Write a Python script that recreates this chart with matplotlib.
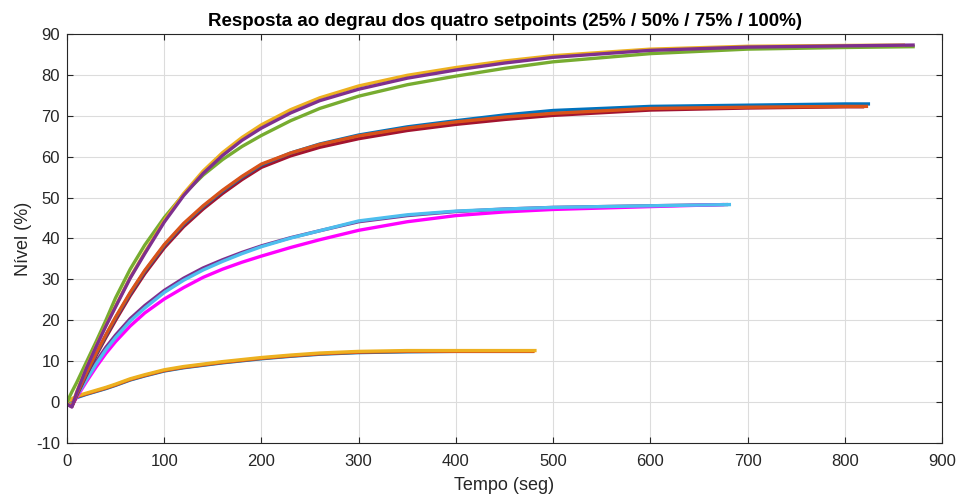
import matplotlib
matplotlib.use("Agg")
import matplotlib.pyplot as plt

# ---- data ----
t_grid = [0, 5, 10, 20, 30, 40, 50, 65, 80, 100, 120, 140, 160, 180, 200,
          230, 260, 300, 350, 400, 450, 500, 600, 700, 800]

# 25 % setpoint
sp25_blue_t = t_grid[:21] + [480]
sp25_blue = [-0.3, 0.4, 1.1, 1.9, 2.6, 3.3, 4.1, 5.4, 6.4, 7.6, 8.4, 9.0, 9.6, 10.1, 10.6,
             11.2, 11.7, 12.1, 12.3, 12.4, 12.4, 12.4]
sp25_red_t = t_grid[:21] + [481]
sp25_red = [-0.2, 0.6, 1.3, 2.0, 2.7, 3.4, 4.2, 5.5, 6.5, 7.7, 8.5, 9.1, 9.7, 10.2, 10.7,
            11.3, 11.8, 12.2, 12.4, 12.4, 12.4, 12.4]
sp25_yel_t = t_grid[:21] + [483]
sp25_yel = [0.0, 0.8, 1.5, 2.2, 2.9, 3.6, 4.4, 5.7, 6.7, 7.9, 8.7, 9.3, 9.9, 10.4, 10.9,
            11.5, 12.0, 12.4, 12.6, 12.6, 12.6, 12.6]

# 50 % setpoint
sp50_pur_t = t_grid[:23] + [680]
sp50_pur = [-0.3, -1.0, 1.8, 6.0, 9.9, 13.4, 16.4, 20.4, 23.6, 27.3, 30.3, 32.8, 34.8, 36.6,
            38.2, 40.2, 41.9, 44.1, 45.6, 46.6, 47.2, 47.6, 48.0, 48.3]
sp50_lbl_t = t_grid[:23] + [683]
sp50_lbl = [0.0, -0.7, 1.5, 5.5, 9.3, 12.8, 15.8, 19.8, 23.0, 26.8, 29.8, 32.3, 34.4, 36.3,
            38.0, 40.1, 41.9, 44.3, 45.8, 46.7, 47.2, 47.6, 48.0, 48.3]
sp50_mag_t = t_grid[:23] + [676]
sp50_mag = [-0.3, -0.9, 1.2, 5.0, 8.6, 11.9, 14.8, 18.6, 21.8, 25.2, 28.0, 30.5, 32.5, 34.2,
            35.7, 37.8, 39.7, 42.0, 44.1, 45.6, 46.5, 47.1, 47.8, 48.3]

# 75 % setpoint
sp75_blue_t = t_grid + [826]
sp75_blue = [-0.2, -0.8, 2.0, 7.0, 11.8, 16.3, 20.6, 26.6, 32.0, 38.3, 43.5, 47.8, 51.6, 55.0,
             58.0, 60.9, 63.1, 65.3, 67.3, 68.8, 70.2, 71.3, 72.3, 72.6, 72.9, 72.9]
sp75_red_t = t_grid + [824]
sp75_red = [-0.3, -0.9, 2.0, 7.2, 12.0, 16.5, 20.8, 26.8, 32.2, 38.5, 43.7, 48.0, 51.8, 55.2,
            58.2, 60.9, 63.0, 65.1, 67.0, 68.5, 69.7, 70.6, 71.8, 72.1, 72.3, 72.3]
sp75_drd_t = t_grid + [820]
sp75_drd = [-0.5, -1.1, 1.6, 6.6, 11.4, 15.8, 20.0, 26.0, 31.4, 37.7, 42.9, 47.2, 51.0, 54.4,
            57.4, 60.2, 62.3, 64.4, 66.4, 67.9, 69.1, 70.1, 71.4, 71.9, 72.2, 72.2]

# 100 % setpoint
sp100_yel_t = t_grid + [862]
sp100_yel = [-0.3, -1.0, 2.5, 8.5, 13.8, 18.8, 23.5, 30.5, 36.6, 44.4, 51.0, 56.5, 61.0, 64.7,
             67.8, 71.5, 74.4, 77.3, 79.9, 81.8, 83.4, 84.7, 86.3, 87.0, 87.2, 87.3]
sp100_grn_t = t_grid + [872]
sp100_grn = [0.0, 2.5, 4.8, 9.8, 14.8, 20.0, 25.5, 32.5, 38.4, 45.1, 50.8, 55.5, 59.3, 62.5,
             65.2, 68.8, 71.8, 74.8, 77.6, 79.7, 81.6, 83.2, 85.2, 86.3, 86.7, 86.9]
sp100_pur_t = t_grid + [872]
sp100_pur = [-0.5, -1.2, 2.3, 8.3, 13.6, 18.6, 23.3, 30.3, 36.3, 44.0, 50.5, 55.9, 60.3, 64.0,
             67.0, 70.7, 73.7, 76.5, 79.2, 81.2, 82.9, 84.3, 86.0, 86.8, 87.1, 87.3]

x_ticks = [0, 100, 200, 300, 400, 500, 600, 700, 800, 900]
y_ticks = [-10, 0, 10, 20, 30, 40, 50, 60, 70, 80, 90]

title = "Resposta ao degrau dos quatro setpoints (25% / 50% / 75% / 100%)"
xlabel = "Tempo (seg)"
ylabel = "Nível (%)"

# ---- styling ----
C_BLUE = "#0072BD"
C_ORG = "#D95319"
C_YEL = "#EDB120"
C_PUR = "#7E2F8E"
C_GRN = "#77AC30"
C_LBL = "#4DBEEE"
C_DRD = "#A2142F"
C_MAG = "#FF00FF"

series = [
    (sp25_blue_t, sp25_blue, C_BLUE),
    (sp25_red_t, sp25_red, C_ORG),
    (sp25_yel_t, sp25_yel, C_YEL),
    (sp50_pur_t, sp50_pur, C_PUR),
    (sp50_mag_t, sp50_mag, C_MAG),
    (sp50_lbl_t, sp50_lbl, C_LBL),
    (sp75_drd_t, sp75_drd, C_DRD),
    (sp75_blue_t, sp75_blue, C_BLUE),
    (sp75_red_t, sp75_red, C_ORG),
    (sp100_grn_t, sp100_grn, C_GRN),
    (sp100_yel_t, sp100_yel, C_YEL),
    (sp100_pur_t, sp100_pur, C_PUR),
]

plt.rcParams['font.family'] = ['Liberation Sans', 'DejaVu Sans']
plt.rcParams['axes.unicode_minus'] = False

fig = plt.figure(figsize=(9.58, 4.97), dpi=100)
ax = fig.add_axes([67 / 958, 1 - 443 / 497, 875 / 958, 409 / 497])

for t, v, c in series:
    ax.plot(t, v, color=c, lw=2.4, solid_capstyle='butt', solid_joinstyle='round')

ax.set_xlim(0, 900)
ax.set_ylim(-10, 90)
ax.set_xticks(x_ticks)
ax.set_yticks(y_ticks)
ax.grid(True, color="#dcdcdc", lw=0.8)
ax.set_axisbelow(True)
ax.tick_params(axis='x', pad=8)
ax.tick_params(axis='y', pad=5)
ax.tick_params(direction='in', top=True, right=True, length=4, width=0.8,
               colors="#262626", labelsize=12)
for s in ax.spines.values():
    s.set_color("#262626")
    s.set_linewidth(0.8)

ax.set_title(title, fontsize=13.5, fontweight='bold', color="#000000", pad=6)
ax.set_xlabel(xlabel, fontsize=13, color="#262626", labelpad=6)
ax.set_ylabel(ylabel, fontsize=13, color="#262626", labelpad=3)

fig.savefig("out.png", dpi=100, facecolor="white")
